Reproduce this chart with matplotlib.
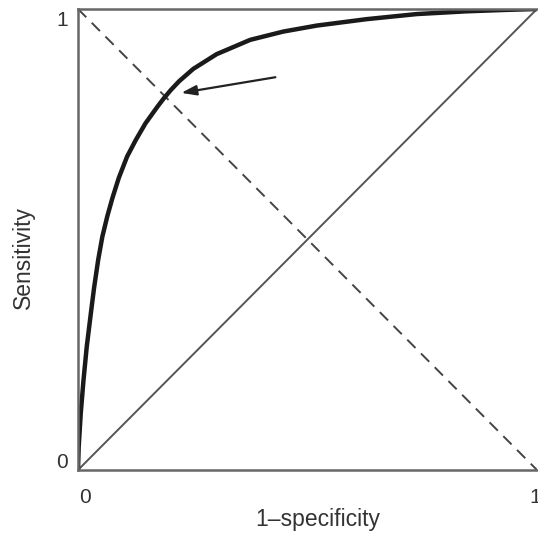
import matplotlib.pyplot as plt
import numpy as np

# ROC curve (1-specificity, sensitivity)
fpr = [0.0, 0.0015, 0.006, 0.012, 0.019, 0.028, 0.035, 0.044, 0.053, 0.064,
       0.075, 0.089, 0.107, 0.126, 0.147, 0.173, 0.186, 0.202, 0.220, 0.251,
       0.302, 0.375, 0.447, 0.520, 0.629, 0.738, 0.847, 0.93, 1.0]
sens = [0.0, 0.05, 0.123, 0.195, 0.267, 0.340, 0.395, 0.456, 0.506, 0.551,
        0.590, 0.634, 0.680, 0.716, 0.752, 0.788, 0.805, 0.824, 0.843, 0.870,
        0.902, 0.933, 0.951, 0.964, 0.978, 0.989, 0.995, 0.998, 1.0]

# arrow pointing at the point where the curve meets the dashed line
arrow_tip = (0.219, 0.817)
arrow_tail = (0.436, 0.853)

plt.rcParams["font.family"] = ["Liberation Sans", "DejaVu Sans"]

fig = plt.figure(figsize=(5.38, 5.35), dpi=100)
ax = fig.add_axes([78 / 538, 65 / 535, 459 / 538, 461 / 535])

ax.plot([0, 1], [0, 1], color="#555555", lw=1.4)
ax.plot([0, 1], [1, 0], color="#444444", lw=1.4, ls=(0, (6, 4)))
ax.plot(fpr, sens, color="#1a1a1a", lw=3.2, solid_capstyle="round",
        solid_joinstyle="round")
ax.annotate("", xy=arrow_tip, xytext=arrow_tail,
            arrowprops=dict(arrowstyle="-|>,head_length=0.9,head_width=0.3",
                            color="#222222", lw=1.6))

ax.set_xlim(0, 1)
ax.set_ylim(0, 1)
ax.set_xticks([])
ax.set_yticks([])
for s in ["left", "bottom", "top"]:
    ax.spines[s].set_color("#666666")
    ax.spines[s].set_linewidth(1.8)
ax.spines["right"].set_visible(False)

tc = "#333333"
ax.text(-0.035, 0.975, "1", transform=ax.transAxes, ha="center", va="center", fontsize=15, color=tc)
ax.text(-0.035, 0.017, "0", transform=ax.transAxes, ha="center", va="center", fontsize=15, color=tc)
ax.text(0.015, -0.059, "0", transform=ax.transAxes, ha="center", va="center", fontsize=15, color=tc)
ax.text(0.997, -0.059, "1", transform=ax.transAxes, ha="center", va="center", fontsize=15, color=tc)

ax.text(0.523, -0.108, "1\u2013specificity", transform=ax.transAxes, ha="center", va="center",
        fontsize=16.5, color=tc)
ax.text(-0.118, 0.46, "Sensitivity", transform=ax.transAxes, ha="center", va="center",
        rotation=90, fontsize=16.5, color=tc)

fig.savefig("out.png", dpi=100)
